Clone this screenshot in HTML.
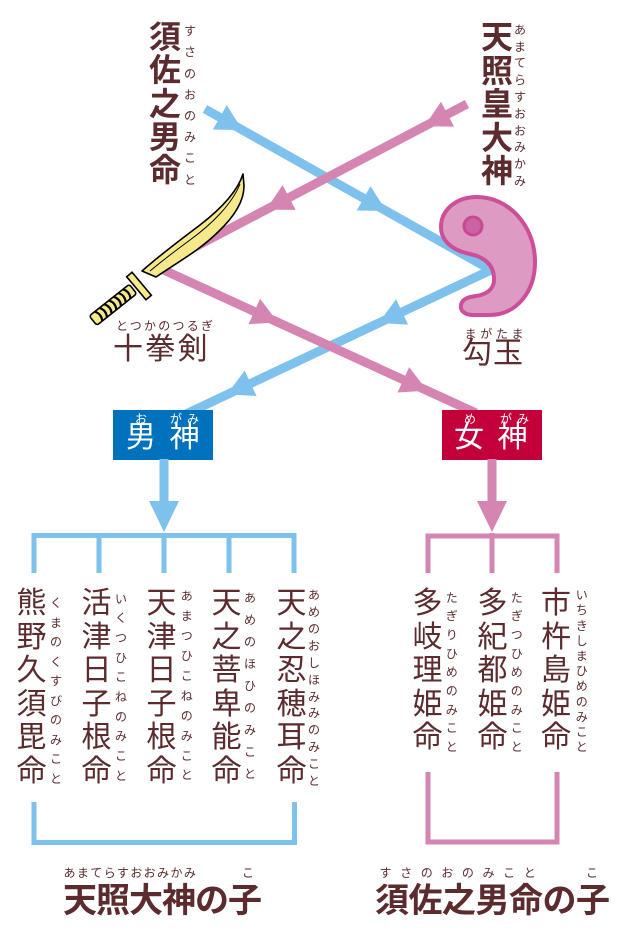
<!DOCTYPE html>
<html lang="ja">
<head>
<meta charset="utf-8">
<style>
  html,body{margin:0;padding:0;background:#fff;}
  body{width:638px;height:930px;position:relative;overflow:hidden;
       font-family:"Liberation Sans","Noto Sans CJK JP",sans-serif;color:#5b2b2e;}
  svg{position:absolute;left:0;top:0;}
  .v{position:absolute;word-break:break-all;text-align:center;white-space:normal;}
  .h{position:absolute;white-space:nowrap;line-height:1;}
  .b{font-weight:bold;}
  .w{color:#fff;}
</style>
</head>
<body>
<svg width="638" height="930" viewBox="0 0 638 930" xmlns="http://www.w3.org/2000/svg">
  <!-- blue connector -->
  <polyline points="205,109 491,270 186,414" fill="none" stroke="#7ec1ed" stroke-width="9" stroke-linejoin="miter"/>
  <polygon points="242.5,130.1 212.9,129.5 226.7,105.1" fill="#7ec1ed"/>
  <polygon points="386.3,211 356.7,210.5 370.5,186.1" fill="#7ec1ed"/>
  <polygon points="378.6,323 396.1,299.2 408.1,324.6" fill="#7ec1ed"/>
  <polygon points="227,394.4 244.6,370.6 256.6,396" fill="#7ec1ed"/>
  <!-- pink connector -->
  <polyline points="467,104 157,267 476,413" fill="none" stroke="#d585b1" stroke-width="9" stroke-linejoin="miter"/>
  <polygon points="424.5,126.3 441,101.8 454,126.6" fill="#d585b1"/>
  <polygon points="266.1,209.6 282.6,185.1 295.6,209.9" fill="#d585b1"/>
  <polygon points="277.9,322.4 248.5,324.2 260.1,298.8" fill="#d585b1"/>
  <polygon points="427.1,390.6 397.6,392.5 409.2,367.1" fill="#d585b1"/>

  <!-- magatama -->
  <path d="M 477,197 C 508,197 535,225 535,262 C 535,292 516,315 490,315 L 473,315 C 464,315 460,310 461,305 C 462,299 468,297 476,296 C 489,294 495,287 494,277 C 493,264 484,257 470,254 C 451,250 441,240 441,227 C 441,210 456,197 477,197 Z"
        fill="#dd9ac2" stroke="#cc4f98" stroke-width="4" stroke-linejoin="round"/>
  <circle cx="473" cy="226" r="9" fill="#cd62a2" stroke="#c64a93" stroke-width="3"/>

  <!-- sword -->
  <path d="M 243,174 C 238,190 222,208 200,225 C 180,240 160,255 142,271 L 156,277 C 178,262 200,250 218,232 C 235,216 244,200 244,186 Z"
        fill="#f6e98c" stroke="#000" stroke-width="1.6" stroke-linejoin="round"/>
  <path d="M 240,184 C 232,204 212,224 190,240 C 175,251 162,261 150,271" fill="none" stroke="#000" stroke-width="1"/>
  <g transform="translate(133,289) rotate(141.6)">
    <rect x="0" y="-6" width="51" height="12" rx="2.5" fill="#f6e98c" stroke="#000" stroke-width="1.6"/>
    <g fill="none" stroke="#000" stroke-width="2.2">
      <path d="M 8,-6 Q 4,0 8,6"/>
      <path d="M 14,-6 Q 10,0 14,6"/>
      <path d="M 20,-6 Q 16,0 20,6"/>
      <path d="M 26,-6 Q 22,0 26,6"/>
      <path d="M 32,-6 Q 28,0 32,6"/>
      <path d="M 38,-6 Q 34,0 38,6"/>
      <path d="M 44,-6 Q 40,0 44,6"/>
    </g>
  </g>
  <rect x="-3.5" y="-15" width="7" height="30" fill="#f6e98c" stroke="#000" stroke-width="1.6" transform="translate(139,286) rotate(-40)"/>

  <!-- boxes -->
  <rect x="113" y="410" width="100" height="50" fill="#0071bc"/>
  <rect x="442" y="410" width="100" height="50" fill="#c4003b"/>

  <!-- vertical arrows -->
  <rect x="159.5" y="459" width="9" height="45" fill="#7ec1ed"/>
  <polygon points="149,501 179,501 164,532" fill="#7ec1ed"/>
  <rect x="487.5" y="459" width="9" height="45" fill="#d585b1"/>
  <polygon points="477,501 507,501 492,532" fill="#d585b1"/>

  <!-- brackets -->
  <g fill="none" stroke="#7ec1ed" stroke-width="5" stroke-linejoin="miter" stroke-linecap="butt">
    <path d="M34,573 V535.5 H294 V573"/>
    <path d="M99,535.5 V573"/>
    <path d="M164,533 V573"/>
    <path d="M229,535.5 V573"/>
    <path d="M34,802 V842.5 H294.5 V802"/>
  </g>
  <g fill="none" stroke="#d585b1" stroke-width="5" stroke-linejoin="miter" stroke-linecap="butt">
    <path d="M428,573 V536 H557 V573"/>
    <path d="M492,533 V573"/>
    <path d="M428,772 V842 H557 V772"/>
  </g>
</svg>

<!-- top names -->
<div class="v b" style="left:149px;top:21px;width:32px;font-size:32px;line-height:33.25px;">須佐之男命</div>
<div class="v" style="left:184px;top:21.2px;width:12px;font-size:12px;line-height:21.2px;">すさのおのみこと</div>
<div class="v b" style="left:481px;top:21px;width:32px;font-size:32px;line-height:33.5px;">天照皇大神</div>
<div class="v" style="left:514px;top:21.9px;width:12px;font-size:12px;line-height:16.8px;">あまてらすおおみかみ</div>

<!-- sword label -->
<div class="h" style="left:116px;top:320px;font-size:12px;letter-spacing:2.25px;">とつかのつるぎ</div>
<div class="h" style="left:113px;top:334.5px;font-size:30px;letter-spacing:2.3px;">十拳剣</div>

<!-- magatama label -->
<div class="h" style="left:464.5px;top:327.8px;font-size:12px;letter-spacing:3.8px;">まがたま</div>
<div class="h" style="left:462px;top:339.3px;font-size:30px;letter-spacing:1px;">勾玉</div>

<!-- box labels -->
<div class="h w" style="left:135px;top:412.5px;font-size:12px;">お</div>
<div class="h w" style="left:170px;top:412.5px;font-size:12px;letter-spacing:5px;">がみ</div>
<div class="h w" style="left:126px;top:423px;font-size:30px;">男</div>
<div class="h w" style="left:169.5px;top:423px;font-size:30px;">神</div>
<div class="h w" style="left:464px;top:412.5px;font-size:12px;">め</div>
<div class="h w" style="left:500px;top:412.5px;font-size:12px;letter-spacing:5px;">がみ</div>
<div class="h w" style="left:454px;top:423px;font-size:30px;">女</div>
<div class="h w" style="left:497.5px;top:423px;font-size:30px;">神</div>

<!-- left children -->
<div class="v" style="left:276.5px;top:587px;width:30px;font-size:30px;line-height:33.6px;">天之忍穂耳命</div>
<div class="v" style="left:308px;top:587.4px;width:12px;font-size:12px;line-height:16.86px;">あめのおしほみみのみこと</div>
<div class="v" style="left:211.5px;top:587px;width:30px;font-size:30px;line-height:33.6px;">天之菩卑能命</div>
<div class="v" style="left:244px;top:588.3px;width:12px;font-size:12px;line-height:21.9px;">あめのほひのみこと</div>
<div class="v" style="left:146.5px;top:587px;width:30px;font-size:30px;line-height:33.6px;">天津日子根命</div>
<div class="v" style="left:180.7px;top:587.3px;width:12px;font-size:12px;line-height:19.9px;">あまつひこねのみこと</div>
<div class="v" style="left:81.5px;top:587px;width:30px;font-size:30px;line-height:33.6px;">活津日子根命</div>
<div class="v" style="left:115px;top:589.5px;width:12px;font-size:12px;line-height:19.7px;">いくつひこねのみこと</div>
<div class="v" style="left:16.5px;top:587px;width:30px;font-size:30px;line-height:33.6px;">熊野久須毘命</div>
<div class="v" style="left:50px;top:594px;width:12px;font-size:12px;line-height:19.5px;">くまのくすびのみこと</div>

<!-- right children -->
<div class="v" style="left:541px;top:587px;width:30px;font-size:30px;line-height:33.6px;">市杵島姫命</div>
<div class="v" style="left:575.7px;top:588.2px;width:12px;font-size:12px;line-height:15.2px;">いちきしまひめのみこと</div>
<div class="v" style="left:477.5px;top:587px;width:30px;font-size:30px;line-height:33.6px;">多紀都姫命</div>
<div class="v" style="left:510.7px;top:588.5px;width:12px;font-size:12px;line-height:18.7px;">たぎつひめのみこと</div>
<div class="v" style="left:412.5px;top:587px;width:30px;font-size:30px;line-height:33.6px;">多岐理姫命</div>
<div class="v" style="left:445.7px;top:588.5px;width:12px;font-size:12px;line-height:18.7px;">たぎりひめのみこと</div>

<!-- bottom captions -->
<div class="h" style="left:63.5px;top:866.8px;font-size:12px;letter-spacing:1.4px;">あまてらすおおみかみ</div>
<div class="h" style="left:242px;top:866.8px;font-size:12px;">こ</div>
<div class="h b" style="left:63px;top:884px;font-size:34px;letter-spacing:-1px;">天照大神の子</div>

<div class="h" style="left:379.5px;top:866.8px;font-size:12px;letter-spacing:8.6px;">すさのおのみこと</div>
<div class="h" style="left:586px;top:866.8px;font-size:12px;">こ</div>
<div class="h b" style="left:375px;top:884px;font-size:34px;letter-spacing:-0.5px;">須佐之男命の子</div>
</body>
</html>
